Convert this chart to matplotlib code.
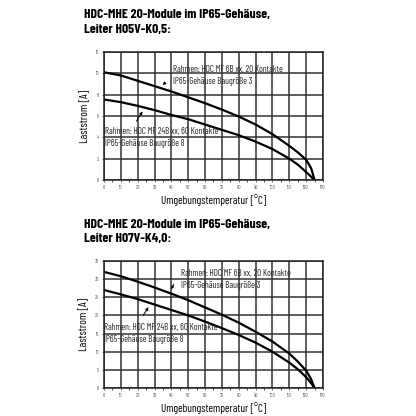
import matplotlib
matplotlib.use('Agg')
import matplotlib.pyplot as plt

plt.rcParams['font.family'] = ['Barlow Condensed', 'DejaVu Sans']

# temperatures (°C)
temp = [0, 10, 20, 30, 40, 50, 60, 70, 80, 90, 100, 110, 115, 120, 123, 125]

# top chart: Leiter H05V-K0,5
top_6b = [10.1, 9.8, 9.3, 8.8, 8.3, 7.75, 7.2, 6.6, 5.95, 5.2, 4.3, 3.2, 2.6, 1.9, 1.1, 0]
top_24b = [7.55, 7.3, 6.95, 6.55, 6.1, 5.7, 5.2, 4.7, 4.2, 3.6, 2.9, 2.0, 1.45, 0.75, 0.3, 0]

# bottom chart: Leiter H07V-K4,0
bot_6b = [32, 30.8, 29.3, 27.7, 26, 24.2, 22.2, 20.2, 18, 15.5, 12.8, 9.5, 7.3, 4.8, 2.4, 0]
bot_24b = [27, 25.8, 24.5, 23, 21.5, 20, 18.3, 16.5, 14.6, 12.5, 10, 7, 5.2, 3, 1.3, 0]

x_ticks = list(range(0, 140, 10))
label_6b = 'Rahmen: HDC MF 6B xx, 20 Kontakte\nIP65-Gehäuse Baugröße 3'
label_24b = 'Rahmen: HDC MF 24B xx, 60 Kontakte\nIP65-Gehäuse Baugröße 8'


def draw(ax, y1, y2, ymax, ystep, txt1, arr1, txt2, arr2):
    ax.set_xlim(0, 130)
    ax.set_ylim(0, ymax)
    ax.set_xticks(x_ticks)
    ax.set_yticks(range(0, ymax + 1, ystep))
    ax.set_xticks(range(0, 131, 5), minor=True)
    ax.grid(True, color='#333333', linewidth=1.1)
    ax.tick_params(labelsize=3.8, colors='#555555', length=1.5, width=0.6, pad=2)
    ax.tick_params(which='minor', length=1.2, width=0.5)
    for s in ax.spines.values():
        s.set_linewidth(1.1)
        s.set_color('#222222')
    ax.plot(temp, y1, color='black', linewidth=1.6)
    ax.plot(temp, y2, color='black', linewidth=1.6)
    ax.text(txt1[0], txt1[1], label_6b, fontsize=6.5, va='top', ha='left',
            linespacing=1.45, color='#222222')
    ax.text(txt2[0], txt2[1], label_24b, fontsize=6.5, va='top', ha='left',
            linespacing=1.45, color='#222222')
    ax.annotate('', xy=arr1[0], xytext=arr1[1],
                arrowprops=dict(arrowstyle='-|>', color='black', lw=0.7, mutation_scale=4))
    ax.annotate('', xy=arr2[0], xytext=arr2[1],
                arrowprops=dict(arrowstyle='-|>', color='black', lw=0.7, mutation_scale=4))
    ax.set_ylabel('Laststrom [A]', fontsize=8.2, labelpad=4)
    ax.set_xlabel('Umgebungstemperatur [°C]', fontsize=8, labelpad=3)


fig = plt.figure(figsize=(4.16, 4.16), dpi=100)

ax1 = fig.add_axes([0.25, 0.5673, 0.5264, 0.3077])
draw(ax1, top_6b, top_24b, 12, 2,
     (41, 10.75), ((33.8, 8.7), (37.4, 9.3)),
     (0.6, 4.95), ((23.7, 6.65), (18.4, 5.3)))

ax2 = fig.add_axes([0.25, 0.0673, 0.5264, 0.3053])
draw(ax2, bot_6b, bot_24b, 35, 5,
     (45.5, 32.9), ((39.2, 26.5), (42.1, 29.3)),
     (0, 17.9), ((27.3, 22.9), (22.4, 19.4)))

title_font = dict(fontsize=9.8, fontweight='bold', ha='left', va='center')
fig.text(0.202, 1 - 14.5 / 416, 'HDC-MHE 20-Module im IP65-Gehäuse,', **title_font)
fig.text(0.202, 1 - 29 / 416, 'Leiter H05V-K0,5:', **title_font)
fig.text(0.202, 1 - 224.5 / 416, 'HDC-MHE 20-Module im IP65-Gehäuse,', **title_font)
fig.text(0.202, 1 - 239 / 416, 'Leiter H07V-K4,0:', **title_font)

fig.savefig('out.png', dpi=100, facecolor='white')
